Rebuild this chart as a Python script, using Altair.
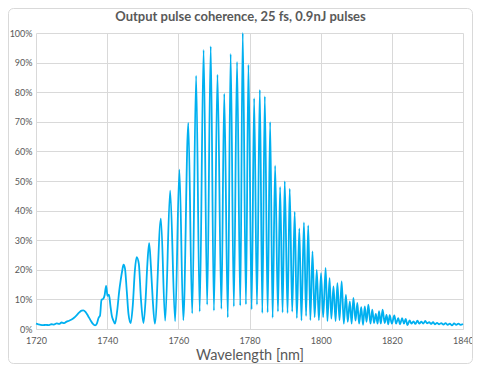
import altair as alt
import pandas as pd

title_text = "Output  pulse coherence, 25 fs, 0.9nJ pulses"
x_title = "Wavelength [nm]"
x_ticks = [1720, 1740, 1760, 1780, 1800, 1820, 1840]
y_ticks = [0, 0.1, 0.2, 0.3, 0.4, 0.5, 0.6, 0.7, 0.8, 0.9, 1.0]

wavelength = [
    1720.0, 1720.6, 1721.3, 1722.0, 1722.8, 1723.5, 1724.3, 1725.0, 1725.8, 1726.5,
    1727.2, 1727.9, 1728.6, 1729.3, 1730.0, 1730.7, 1731.4, 1732.1, 1732.8, 1733.3,
    1733.9, 1734.6, 1735.3, 1736.0, 1736.6, 1737.1, 1737.6, 1738.0, 1738.4, 1738.9,
    1739.3, 1739.7, 1740.1, 1740.5, 1740.9, 1741.3, 1741.7, 1742.2, 1742.8, 1743.4,
    1743.8, 1744.2, 1744.6, 1745.0, 1745.5, 1746.0, 1746.6, 1747.2, 1747.8, 1748.3,
    1748.9, 1749.5, 1750.2, 1750.8, 1751.3, 1751.8, 1752.3, 1752.8, 1753.4,
    1755.1, 1756.3, 1757.7, 1759.1, 1760.3, 1761.4, 1762.8, 1763.9, 1765.0, 1766.0,
    1767.1, 1768.1, 1769.1, 1770.0, 1771.0, 1772.1, 1772.9, 1773.9, 1774.7, 1775.6,
    1776.5, 1777.4, 1778.1, 1779.0, 1779.7, 1780.6, 1781.3, 1782.1, 1782.9, 1783.6,
    1784.3, 1785.1, 1785.8, 1786.5, 1787.2, 1788.0, 1788.6, 1789.3, 1789.9, 1790.7,
    1791.3, 1792.0, 1792.7, 1793.3, 1794.0, 1794.6, 1795.3, 1795.9, 1796.5, 1797.1,
    1797.7, 1798.3, 1798.9, 1799.5, 1800.1, 1800.7, 1801.4, 1801.9, 1802.5, 1803.0,
    1803.6, 1804.2, 1804.7, 1805.3, 1805.9, 1806.5, 1807.1, 1807.6, 1808.2, 1808.7,
    1809.2, 1809.8, 1810.3, 1810.8, 1811.4, 1811.9, 1812.4, 1812.9, 1813.4, 1814.0,
    1814.5, 1815.0, 1815.5, 1816.0, 1816.4, 1816.9, 1817.4, 1818.0, 1818.5, 1819.0,
    1819.4, 1820.0, 1820.7, 1821.2, 1821.8, 1822.3, 1822.9, 1823.4, 1823.9, 1824.4,
    1825.0, 1825.5, 1826.1, 1826.6, 1827.2, 1827.7, 1828.3, 1828.8, 1829.4, 1829.9,
    1830.5, 1831.0, 1831.6, 1832.1, 1832.7, 1833.3, 1833.9, 1834.5, 1835.1, 1835.7,
    1836.3, 1836.9, 1837.5, 1838.1, 1838.7, 1839.3, 1840.0,
]

coherence_pct = [
    1.8, 1.6, 1.4, 1.3, 1.4, 1.3, 1.6, 1.5, 1.9, 1.7,
    2.2, 2.0, 2.5, 2.8, 3.2, 3.8, 4.6, 5.5, 6.2, 6.3,
    5.8, 4.5, 3.0, 1.7, 1.2, 1.8, 3.8, 4.6, 9.8, 10.2,
    11.5, 14.6, 11.2, 11.6, 8.0, 4.5, 3.0, 1.8, 6.0, 13.0,
    16.5, 19.5, 21.7, 20.5, 13.0, 5.0, 2.0, 8.0, 20.0, 24.3,
    22.0, 10.0, 2.0, 10.0, 22.0, 29.0, 21.0, 10.0, 1.8,
    37.3, 2.8, 46.7, 2.7, 53.8, 3.0, 69.6, 5.3, 85.6, 5.9,
    94.3, 8.2, 95.5, 6.2, 85.9, 6.8, 79.5, 3.9, 92.9, 7.6,
    90.2, 7.9, 100.0, 8.3, 89.3, 6.6, 78.0, 8.2, 80.8, 5.4,
    78.6, 5.6, 69.9, 3.8, 55.2, 5.9, 48.0, 5.6, 49.9, 5.4,
    47.4, 5.9, 39.6, 3.7, 34.0, 2.9, 36.0, 4.4, 35.0, 3.0,
    26.2, 4.0, 20.0, 3.0, 18.9, 4.0, 20.6, 2.7, 17.2, 3.5,
    14.4, 2.7, 15.5, 3.0, 16.1, 1.8, 11.6, 2.4, 9.3, 1.8,
    10.5, 2.8, 8.8, 1.8, 7.4, 1.4, 7.6, 2.4, 8.2, 1.8,
    6.5, 2.0, 5.1, 1.8, 6.0, 1.8, 6.5, 2.0, 4.8, 1.6,
    4.7, 1.8, 4.6, 1.8, 3.7, 1.6, 3.7, 1.8, 3.4, 1.3,
    2.9, 1.8, 2.6, 1.7, 2.8, 1.8, 2.5, 1.8, 2.7, 1.9,
    2.3, 1.7, 2.3, 1.6, 2.1, 1.6, 2.0, 1.5, 2.0, 1.4,
    1.8, 1.2, 1.9, 1.4, 1.8, 1.4, 1.7,
]

df = pd.DataFrame({
    "wl": wavelength,
    "coh": [v / 100.0 for v in coherence_pct],
})

FONT = "Lato"
GREY = "#595959"
single = alt.Data(values=[{}])

frame = alt.Chart(single).mark_rect(
    fillOpacity=0, stroke="#d9d9d9", strokeWidth=1, cornerRadius=5
).encode(
    x=alt.value(-27.5), x2=alt.value(436.5), y=alt.value(-24.5), y2=alt.value(330.5)
)

title = alt.Chart(single).mark_text(
    text=title_text, font=FONT, fontSize=13, fontWeight="bold", color=GREY,
    align="center", baseline="alphabetic",
).encode(x=alt.value(204.5), y=alt.value(-12))

line = alt.Chart(df).mark_line(
    color="#00B0F0", strokeWidth=1.8, interpolate="monotone"
).encode(
    x=alt.X(
        "wl:Q",
        scale=alt.Scale(domain=[1720, 1840], nice=False, zero=False),
        axis=alt.Axis(
            values=x_ticks, format="d", title=x_title, grid=True,
            labelPadding=7, labelFlush=False, titlePadding=3, titleFontSize=14.5,
            titleFontWeight="normal", titleColor=GREY,
        ),
    ),
    y=alt.Y(
        "coh:Q",
        scale=alt.Scale(domain=[0, 1], nice=False),
        axis=alt.Axis(
            values=y_ticks, format=".0%", title=None, grid=True,
            labelPadding=4, domain=False,
        ),
    ),
)

chart = alt.layer(frame, title, line).properties(
    width=427,
    height=296,
    autosize=alt.AutoSizeParams(type="none"),
    padding={"left": 28, "top": 25, "right": 10, "bottom": 35},
).configure_axis(
    labelFont=FONT, labelFontSize=9, labelColor=GREY, titleFont=FONT,
    gridColor="#d9d9d9", domainColor="#d9d9d9", ticks=False,
).configure_view(
    strokeOpacity=0
)

chart.save("out.html", embed_options={"renderer": "svg", "actions": False})
